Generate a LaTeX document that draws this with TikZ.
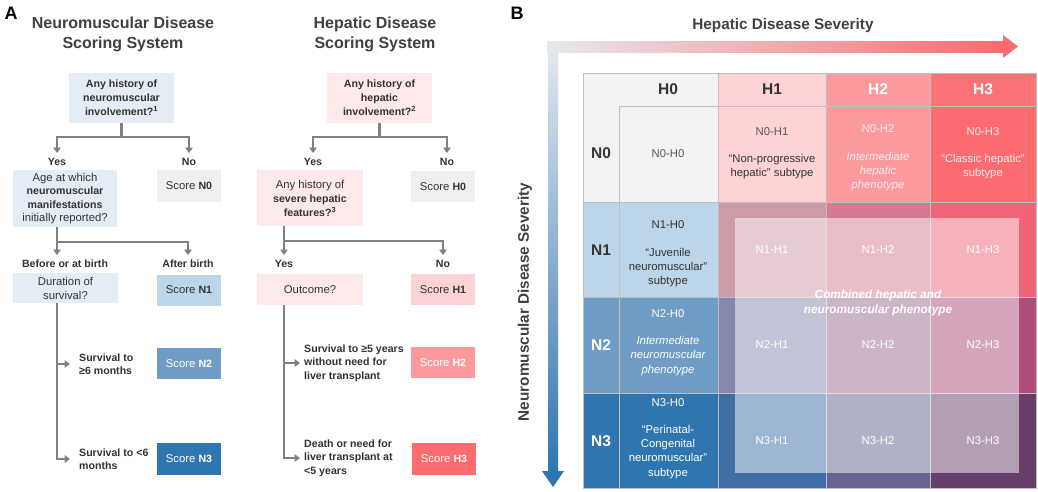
\documentclass[tikz,border=0pt]{standalone}
\usepackage{fontspec}
\setmainfont{Liberation Sans}
\usetikzlibrary{arrows.meta,calc}
\definecolor{qblue}{HTML}{E4ECF5}
\definecolor{qpink}{HTML}{FDE9E9}
\definecolor{gbox}{HTML}{EFEFEF}
\definecolor{ggrid}{HTML}{F2F2F2}
\definecolor{nA}{HTML}{BDD5E8}
\definecolor{nB}{HTML}{6F9DC6}
\definecolor{nC}{HTML}{2F76B1}
\definecolor{hA}{HTML}{FDD3D5}
\definecolor{hB}{HTML}{FB9A9D}
\definecolor{hC}{HTML}{FB6B70}
\definecolor{mAA}{HTML}{CB9CA7}
\definecolor{mAB}{HTML}{D57A8F}
\definecolor{mAC}{HTML}{EE6479}
\definecolor{mBA}{HTML}{8587AE}
\definecolor{mBB}{HTML}{9B6C91}
\definecolor{mBC}{HTML}{B04C78}
\definecolor{mCA}{HTML}{3F6EA6}
\definecolor{mCB}{HTML}{666590}
\definecolor{mCC}{HTML}{683F6A}
\definecolor{txt}{HTML}{333333}
\definecolor{ltxt}{HTML}{555555}
\definecolor{conn}{HTML}{7F7F7F}
\definecolor{ttl}{HTML}{404040}
\definecolor{gline}{HTML}{BFBFBF}
\definecolor{axg}{HTML}{E6E9EE}
\definecolor{pwhite}{HTML}{FDECEC}
\newcommand\Bf[1]{{\fontsize{10.6}{14}\selectfont\bfseries #1}}
\begin{document}
\begin{tikzpicture}[x=1pt,y=-1pt,
  base/.style={inner sep=0pt, text=txt, font=\fontsize{11.3}{14}\selectfont},
  qbox/.style={base, align=center, draw=none},
  sbox/.style={base, align=center, minimum width=64pt},
  lbl/.style={base, font=\fontsize{10.6}{13.5}\selectfont\bfseries, text=txt},
  ttlA/.style={inner sep=0pt, align=center, text=ttl, font=\fontsize{16}{20}\selectfont\bfseries},
  ttlB/.style={inner sep=0pt, text=ttl, font=\fontsize{15.3}{18}\selectfont\bfseries},
  plabel/.style={inner sep=0pt, text=black, font=\fontsize{18}{20}\selectfont\bfseries},
  cn/.style={draw=conn, line width=2.1pt, -{Triangle[width=7.5pt,length=5.5pt]}},
  gtx/.style={base, align=center, font=\fontsize{11.3}{14.2}\selectfont},
  hd/.style={inner sep=0pt, font=\fontsize{15.5}{18}\selectfont\bfseries},
  cellline/.style={draw=gline, line width=1pt}
]
\useasboundingbox (0,0) rectangle (1038,491);
\fill[white] (0,0) rectangle (1038,491);

% ---------- Panel A : neuromuscular ----------
\node[plabel] (lA) at (11,13) {A};
\node[ttlA, anchor=north] (tA) at (123,17) {Neuromuscular Disease\\Scoring System};
\node[qbox, fill=qblue, minimum width=105pt, minimum height=50pt] (nq1) at (121.5,98)
  {\Bf{Any history of}\\\Bf{neuromuscular}\\\Bf{involvement?\textsuperscript{1}}};
\node[lbl, anchor=north] (yesA) at (57,158) {Yes};
\node[lbl, anchor=north] (noA) at (189,158) {No};
\draw[cn, shorten >=5pt] (nq1.south) -- ++(0,14) -| (yesA.north);
\draw[cn, shorten >=5pt] (nq1.south) -- ++(0,14) -| (noA.north);
\node[qbox, fill=qblue, minimum width=104pt, minimum height=57pt, font=\fontsize{11.3}{13.5}\selectfont] (nq2) at (65,198.5)
  {Age at which\\\Bf{neuromuscular}\\\Bf{manifestations}\\initially reported?};
\node[sbox, fill=gbox, minimum height=32pt] (sN0) at (189,186) {Score \Bf{N0}};
\node[lbl, anchor=north] (bbA) at (65,260) {Before or at birth};
\node[lbl, anchor=north] (abA) at (188,260) {After birth};
\draw[cn, shorten >=5pt] (yesA |- nq2.south) -- (yesA |- bbA.north);
\draw[cn, shorten >=5pt] (yesA |- nq2.south) -- ++(0,15) -| (abA.north);
\node[qbox, fill=qblue, minimum width=105pt, minimum height=30pt] (dur) at (65.5,288) {Duration of\\survival?};
\node[sbox, fill=nA, minimum height=31pt] (sN1) at (189,290) {Score \Bf{N1}};
\node[lbl, anchor=west, align=left] (sv1) at (79,364) {Survival to\\≥6 months};
\node[lbl, anchor=west, align=left] (sv2) at (79,459) {Survival to <6\\months};
\draw[cn, shorten >=9pt] (yesA |- dur.south) |- (sv1.west);
\draw[cn, shorten >=9pt] (yesA |- dur.south) |- (sv2.west);
\node[sbox, fill=nB, minimum height=31pt, text=white] (sN2) at (189,363.5) {Score \Bf{N2}};
\node[sbox, fill=nC, minimum height=32pt, text=white] (sN3) at (189,459) {Score \Bf{N3}};

% ---------- Panel A : hepatic ----------
\node[ttlA, anchor=north] (tH) at (375,17) {Hepatic Disease\\Scoring System};
\node[qbox, fill=qpink, minimum width=105pt, minimum height=50pt] (hq1) at (379.5,98)
  {\Bf{Any history of}\\\Bf{hepatic}\\\Bf{involvement?\textsuperscript{2}}};
\node[lbl, anchor=north] (yesH) at (313,158) {Yes};
\node[lbl, anchor=north] (noH) at (447,158) {No};
\draw[cn, shorten >=5pt] (hq1.south) -- ++(0,14) -| (yesH.north);
\draw[cn, shorten >=5pt] (hq1.south) -- ++(0,14) -| (noH.north);
\node[qbox, fill=qpink, minimum width=106pt, minimum height=56pt] (hq2) at (310,198)
  {Any history of\\\Bf{severe hepatic}\\\Bf{features?\textsuperscript{3}}};
\node[sbox, fill=gbox, minimum height=31pt] (sH0) at (443,186.5) {Score \Bf{H0}};
\node[lbl, anchor=north] (yesH2) at (284,260) {Yes};
\node[lbl, anchor=north] (noH2) at (443,260) {No};
\draw[cn, shorten >=5pt] (yesH2 |- hq2.south) -- (yesH2.north);
\draw[cn, shorten >=5pt] (yesH2 |- hq2.south) -- ++(0,15) -| (noH2.north);
\node[qbox, fill=qpink, minimum width=106pt, minimum height=31pt] (outc) at (310,289.5) {Outcome?};
\node[sbox, fill=hA, minimum height=31pt] (sH1) at (443,289.5) {Score \Bf{H1}};
\node[lbl, anchor=west, align=left] (hs1) at (304,363) {Survival to ≥5 years\\without need for\\liver transplant};
\node[lbl, anchor=west, align=left] (hs2) at (304,458) {Death or need for\\liver transplant at\\<5 years};
\draw[cn, shorten >=4pt] (yesH2 |- outc.south) |- (hs1.west);
\draw[cn, shorten >=4pt] (yesH2 |- outc.south) |- (hs2.west);
\node[sbox, fill=hB, minimum height=31pt, text=white] (sH2) at (443,362.5) {Score \Bf{H2}};
\node[sbox, fill=hC, minimum height=32pt, text=white] (sH3) at (444,459) {Score \Bf{H3}};

% ---------- Panel B ----------
\node[plabel] (lB) at (517,13) {B};
\node[ttlB] (tB) at (783,26) {Hepatic Disease Severity};
\node[ttlB, rotate=90] (tV) at (525,302) {Neuromuscular Disease Severity};
\shade[top color=axg, bottom color=nC] (548,41) rectangle (558,472);
\fill[nC] (542,471) -- (553,487) -- (564,471) -- cycle;
\shade[left color=axg, right color=hC] (547,41) rectangle (1004,52);
\fill[hC] (1003,35) -- (1018,46.5) -- (1003,58) -- cycle;

% grid cells
\path[cellline, fill=ggrid] (583,73) rectangle (718,202);
\path[cellline] (619,106) rectangle (718,202);
\path[cellline, fill=hA] (718,73) rectangle (826,106);
\path[cellline, fill=hA] (718,106) rectangle (826,202);
\path[cellline, fill=hB] (826,73) rectangle (930,106);
\path[cellline, fill=hB] (826,106) rectangle (930,202);
\path[cellline, fill=hC!95!white] (930,73) rectangle (1036,106);
\path[cellline, fill=hC] (930,106) rectangle (1036,202);
\path[cellline, fill=nA] (583,202) rectangle (619,297);
\path[cellline, fill=nA] (619,202) rectangle (718,297);
\path[cellline, fill=nB] (583,297) rectangle (619,393);
\path[cellline, fill=nB] (619,297) rectangle (718,393);
\path[cellline, fill=nC] (583,393) rectangle (619,488);
\path[cellline, fill=nC] (619,393) rectangle (718,488);
\path[cellline, fill=mAA] (718,202) rectangle (826,297);
\path[cellline, fill=mAB] (826,202) rectangle (930,297);
\path[cellline, fill=mAC] (930,202) rectangle (1036,297);
\path[cellline, fill=mBA] (718,297) rectangle (826,393);
\path[cellline, fill=mBB] (826,297) rectangle (930,393);
\path[cellline, fill=mBC] (930,297) rectangle (1036,393);
\path[cellline, fill=mCA] (718,393) rectangle (826,488);
\path[cellline, fill=mCB] (826,393) rectangle (930,488);
\path[cellline, fill=mCC] (930,393) rectangle (1036,488);
\fill[white, fill opacity=0.5] (735,218) rectangle (1019,473);

% headers
\node[hd, text=txt] (gH0) at (668,89) {H0};
\node[hd, text=txt] (gH1) at (772,89) {H1};
\node[hd, text=white] (gH2) at (878,89) {H2};
\node[hd, text=white] (gH3) at (983,89) {H3};
\node[hd, text=txt] (gN0) at (601,153) {N0};
\node[hd, text=txt] (gN1) at (601,250) {N1};
\node[hd, text=white] (gN2) at (601,345) {N2};
\node[hd, text=white] (gN3) at (601,441) {N3};

% cell texts
\node[gtx, text=ltxt] (c00) at (668,154) {N0-H0};
\node[gtx, text=txt] (c01) at (772,153) {\textcolor{ltxt}{N0-H1}\\[13pt]“Non-progressive\\hepatic” subtype};
\node[gtx, text=pwhite] (c02) at (878,158) {N0-H2\\[13pt]\itshape Intermediate\\\itshape hepatic\\\itshape phenotype};
\node[gtx, text=pwhite] (c03) at (983,153) {N0-H3\\[13pt]“Classic hepatic”\\subtype};
\node[gtx, text=txt] (c10) at (668,254) {N1-H0\\[13pt]“Juvenile\\neuromuscular”\\subtype};
\node[gtx, text=white] (c20) at (668,342.5) {N2-H0\\[13pt]\itshape Intermediate\\\itshape neuromuscular\\\itshape phenotype};
\node[gtx, text=white] (c30) at (668,438.5) {N3-H0\\[13pt]“Perinatal-\\Congenital\\neuromuscular”\\subtype};
\node[gtx, text=white] (c11) at (772,250) {N1-H1};
\node[gtx, text=white] (c12) at (878,250) {N1-H2};
\node[gtx, text=white] (c13) at (983,250) {N1-H3};
\node[gtx, text=white] (c21) at (772,345) {N2-H1};
\node[gtx, text=white] (c22) at (878,345) {N2-H2};
\node[gtx, text=white] (c23) at (983,345) {N2-H3};
\node[gtx, text=white] (c31) at (772,441) {N3-H1};
\node[gtx, text=white] (c32) at (878,441) {N3-H2};
\node[gtx, text=white] (c33) at (983,441) {N3-H3};
\node[gtx, text=white, font=\fontsize{11.8}{15}\selectfont\bfseries\itshape] (comb) at (878,302.5) {Combined hepatic and\\neuromuscular phenotype};
\end{tikzpicture}
\end{document}
